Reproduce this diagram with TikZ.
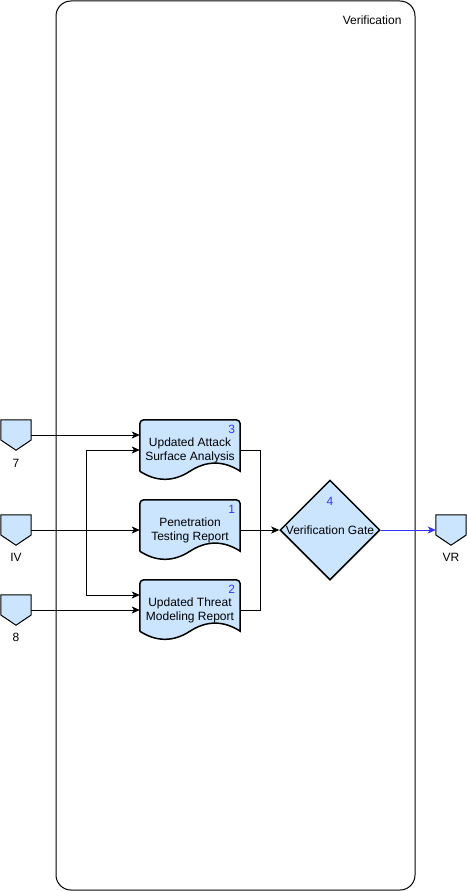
\documentclass[tikz,border=0pt]{standalone}
\usepackage{fontspec}
\setmainfont{Liberation Sans}
\usetikzlibrary{arrows.meta,shapes.geometric}
\definecolor{docfill}{HTML}{CCE5FF}
\definecolor{numblue}{HTML}{3333FF}

% off-page connector drawn round an empty node
\newcommand{\offpage}[1]{%
  \draw[offp] (#1.north west) -- (#1.north east) -- ([yshift=-5pt]#1.east)
    -- (#1.south) -- ([yshift=-5pt]#1.west) -- cycle;}
% document shape with wavy bottom
\newcommand{\docpage}[1]{%
  \draw[docp] ([yshift=9pt]#1.south west) [rounded corners=4pt] -- (#1.north west)
    -- (#1.north east) [sharp corners] -- ([yshift=9pt]#1.south east)
    .. controls ([xshift=-16.7pt,yshift=19.8pt]#1.south east) and ([xshift=16.7pt,yshift=19.8pt]#1.south) .. ([yshift=9pt]#1.south)
    .. controls ([xshift=-16.7pt,yshift=-1.8pt]#1.south) and ([xshift=16.7pt,yshift=-1.8pt]#1.south west) .. ([yshift=9pt]#1.south west);}

\begin{document}
\begin{tikzpicture}[x=1pt,y=-1pt]
\tikzstyle{every node}=[font=\fontsize{12}{14}\selectfont]
\tikzstyle{lane}=[draw, line width=1pt, rounded corners=15pt, minimum width=359pt, minimum height=889pt]
\tikzstyle{doc}=[minimum width=100pt, minimum height=60pt, inner sep=0pt, align=center]
\tikzstyle{docp}=[draw, line width=1.5pt, fill=docfill]
\tikzstyle{offp}=[draw, line width=1pt, fill=docfill]
\tikzstyle{conn}=[minimum width=30pt, minimum height=30pt, inner sep=0pt]
\tikzstyle{gate}=[diamond, draw, line width=1.5pt, fill=docfill, minimum width=100pt, minimum height=100pt, inner sep=0pt]
\tikzstyle{num}=[text=numblue, inner sep=0pt]
\tikzstyle{line}=[line width=1pt]
\tikzstyle{arr}=[line width=1pt, -{Stealth[length=8pt,width=7pt,inset=2pt]}]
\useasboundingbox (0,0) rectangle (466,891);

% swimlane
\node[lane] (lane) at (235.5,445.5) {};
\node[anchor=east] (lanetitle) at (405,20) {Verification};

% off-page connectors
\node[conn] (p7) at (16,435) {};
\node[conn] (piv) at (16,530) {};
\node[conn] (p8) at (16,610) {};
\node[conn] (pvr) at (451,530) {};
\offpage{p7}
\offpage{piv}
\offpage{p8}
\offpage{pvr}
\node (l7) at (16,463) {7};
\node (liv) at (16,557) {IV};
\node (l8) at (16,637) {8};
\node (lvr) at (451,557) {VR};

% documents
\node[doc] (doc3) at (190,450) {};
\node[doc] (doc1) at (190,530) {};
\node[doc] (doc2) at (190,610) {};
\docpage{doc3}
\docpage{doc1}
\docpage{doc2}
\node[align=center] at (doc3.center) {Updated Attack\\Surface Analysis};
\node[align=center] at (doc1.center) {Penetration\\Testing Report};
\node[align=center] at (doc2.center) {Updated Threat\\Modeling Report};
\node[num, anchor=north east] at ([xshift=-5pt,yshift=-5pt]doc3.north east) {3};
\node[num, anchor=north east] at ([xshift=-5pt,yshift=-5pt]doc1.north east) {1};
\node[num, anchor=north east] at ([xshift=-5pt,yshift=-5pt]doc2.north east) {2};

% gate
\node[gate] (gate) at (330,530) {};
\node at (gate.center) {Verification Gate};
\node[num] at (330,501) {4};

% connectors
\coordinate (fork) at (86,530);
\coordinate (join) at (260,530);
\draw[arr] (p7.east) -- (p7.east -| doc3.west);
\draw[arr] (piv.east) -- (doc1.west);
\draw[arr] (fork) |- (doc3.west);
\draw[arr] (fork) |- ([yshift=15pt]doc2.west);
\draw[arr] (p8.east) -- (doc2.west);
\draw[line] (doc3.east) -| (join);
\draw[line] (doc2.east) -| (join);
\draw[arr] (doc1.east) -- (gate.west);
\draw[arr, numblue] (gate.east) -- (pvr.east -| pvr.west);

\end{tikzpicture}
\end{document}
